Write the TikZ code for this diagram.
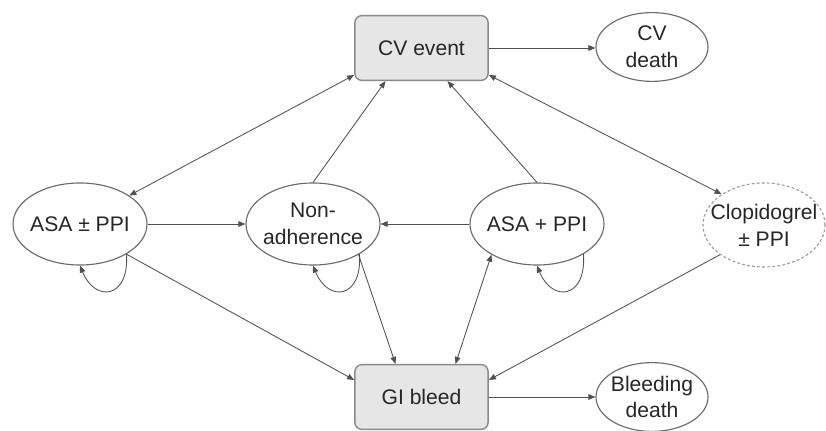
\documentclass[tikz,border=0pt]{standalone}
\usepackage{fontspec}
\setmainfont{Liberation Sans}
\usetikzlibrary{arrows.meta,calc,shapes.geometric}
\definecolor{linegray}{HTML}{505050}
\definecolor{boxfill}{HTML}{E6E6E6}
\definecolor{boxline}{HTML}{8A8A8A}
\definecolor{ovalline}{HTML}{6A6A6A}
\definecolor{dashline}{HTML}{9A9A9A}
\begin{document}
\begin{tikzpicture}[x=0.025cm,y=-0.025cm,
  every node/.style={font=\fontsize{15}{19}\selectfont,align=center,text=black!85},
  evtbox/.style={draw=boxline,fill=boxfill,line width=1pt,rounded corners=5pt,minimum width=3.33cm,minimum height=1.62cm},
  state/.style={ellipse,draw=ovalline,line width=0.8pt,inner sep=0pt,inner xsep=-8pt,minimum width=3.35cm,minimum height=2.05cm},
  endstate/.style={state,minimum width=2.8cm,minimum height=1.72cm},
  clop/.style={state,draw=dashline,dash pattern=on 2pt off 1.6pt,minimum width=3.05cm,minimum height=2.1cm},
  link/.style={draw=linegray,line width=0.6pt,-{Triangle[length=5pt,width=4pt]}},
  both/.style={link,{Triangle[length=5pt,width=4pt]}-{Triangle[length=5pt,width=4pt]}}]
\useasboundingbox (0,0) rectangle (826,431);
\node[evtbox] (cv) at (421.5,48) {CV event};
\node[endstate] (cvd) at (652,47) {CV\\death};
\node[state] (apm) at (80,224) {ASA ± PPI};
\node[state] (na) at (313,224) {Non-\\adherence};
\node[state] (ap) at (537,224) {ASA + PPI};
\node[clop] (cl) at (764,225) {Clopidogrel\\± PPI};
\node[evtbox] (gi) at (421.5,397) {GI bleed};
\node[endstate] (bd) at (652,397) {Bleeding\\death};
\draw[link] (cv) -- (cv -| cvd.west);
\draw[link] (gi) -- (gi -| bd.west);
\draw[both] ($(cv.west)+(0,27)$) -- (apm.30);
\draw[link] (na.north) -- ($(cv.south)+(-36,0)$);
\draw[link] (ap.north) -- ($(cv.south)+(26,0)$);
\draw[both] ($(cv.east)+(0,27)$) -- (cl.144);
\draw[link] (apm) -- (na);
\draw[link] (ap) -- (na);
\draw[link] (apm.327) -- ($(gi.west)+(0,-17)$);
\draw[link] (na.326) -- ($(gi.north)+(-26,0)$);
\draw[both] (ap.214) -- ($(gi.north)+(34,0)$);
\draw[link] (cl.214) -- ($(gi.east)+(0,-17)$);
\foreach \s in {apm,na,ap}
  \draw[link] (\s.327) .. controls +(3,45) and +(15,37) .. (\s.south);
\end{tikzpicture}
\end{document}
